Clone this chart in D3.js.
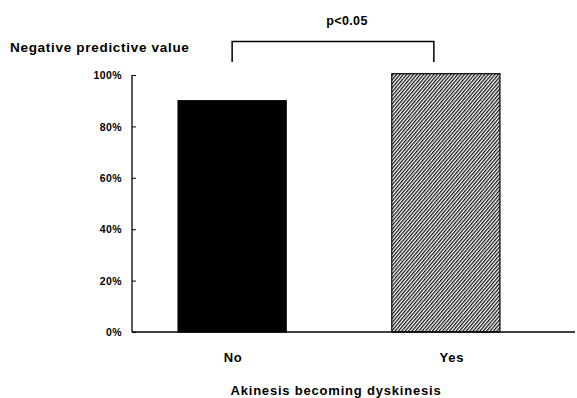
<!DOCTYPE html>
<html><head><meta charset="utf-8">
<script src="https://cdn.jsdelivr.net/npm/d3@7"></script>
<style>
body{margin:0;background:#fff;}
text{font-family:"Liberation Sans",Arial,sans-serif;font-weight:bold;fill:#000;}
</style></head>
<body><svg id="c" width="577" height="398"></svg>
<script>
const categories = ["No", "Yes"];
const values = [90, 100.5];
const yTicks = [0, 20, 40, 60, 80, 100];
const yTitle = "Negative predictive value";
const xTitle = "Akinesis becoming dyskinesis";
const sigLabel = "p<0.05";

const svg = d3.select("#c");
const defs = svg.append("defs");
const pat = defs.append("pattern").attr("id","hatch").attr("patternUnits","userSpaceOnUse")
  .attr("width",2.6).attr("height",2.6).attr("patternTransform","rotate(40)");
pat.append("rect").attr("width",2.6).attr("height",2.6).attr("fill","#fff");
pat.append("line").attr("x1",0.6).attr("y1",0).attr("x2",0.6).attr("y2",2.6).attr("stroke","#111").attr("stroke-width",1.3);

const y = d3.scaleLinear().domain([0,100]).range([332,75]);
const x = d3.scaleBand().domain(categories).range([132,546]).paddingInner(0.494).paddingOuter(0.2155);

// y axis
const yAxis = d3.axisRight(y).tickValues(yTicks).tickSize(4).tickFormat(d=>d+"%");
const gy = svg.append("g").attr("transform","translate(132,0)").call(yAxis);
gy.select(".domain").remove();
gy.selectAll("text").attr("x",-10).attr("text-anchor","end").style("font-size","10.5px").style("letter-spacing","0.4px").attr("dy","0.35em");
gy.selectAll("line").attr("stroke","#000").attr("stroke-width",1);
svg.append("line").attr("x1",132).attr("x2",132).attr("y1",y(100)).attr("y2",y(0)).attr("stroke","#000").attr("stroke-width",1.3);

// bars
svg.selectAll("rect.bar").data(categories).join("rect").attr("class","bar")
  .attr("x",d=>x(d)).attr("width",x.bandwidth())
  .attr("y",(d,i)=>y(values[i])).attr("height",(d,i)=>y(0)-y(values[i]))
  .attr("fill",(d,i)=>i===0?"#000":"url(#hatch)").attr("stroke","#000").attr("stroke-width",1.2);

// x axis line
svg.append("line").attr("x1",132).attr("x2",575).attr("y1",y(0)).attr("y2",y(0)).attr("stroke","#000").attr("stroke-width",1.5);

// category labels
svg.selectAll("text.cat").data(categories).join("text").attr("class","cat")
  .attr("x",(d,i)=>x(d)+x.bandwidth()/2+(i===1?6:1)).attr("y",362).attr("text-anchor","middle")
  .style("font-size","13px").style("letter-spacing","0.8px").text(d=>d);

// titles
svg.append("text").attr("x",10).attr("y",52).style("font-size","13.5px").style("letter-spacing","0.7px").text(yTitle);
svg.append("text").attr("x",336).attr("y",395).attr("text-anchor","middle").style("font-size","13px").style("letter-spacing","0.8px").text(xTitle);

// significance bracket
const bx1 = x(categories[0]) + x.bandwidth()/2, bx2 = x(categories[1]) + x.bandwidth()/2 - 12;
svg.append("path").attr("d",`M${bx1},62V41.5H${bx2}V62`).attr("fill","none").attr("stroke","#000").attr("stroke-width",1.5);
svg.append("text").attr("x",(bx1+bx2)/2+14).attr("y",25).attr("text-anchor","middle").style("font-size","12.5px").style("letter-spacing","0.4px").text(sigLabel);
</script></body></html>
